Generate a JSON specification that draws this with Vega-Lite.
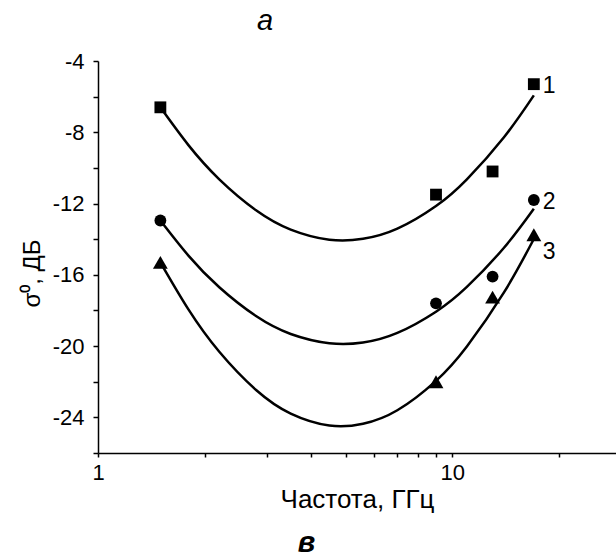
{
  "$schema": "https://vega.github.io/schema/vega-lite/v6.json",
  "width": 518,
  "height": 392,
  "autosize": {"type": "none"},
  "padding": {"left": 98, "top": 61, "right": 0, "bottom": 104},
  "background": "white",
  "config": {
    "view": {"stroke": null},
    "font": "Liberation Sans",
    "axis": {
      "grid": false,
      "domainColor": "black",
      "domainWidth": 1.5,
      "tickColor": "black",
      "tickWidth": 1.5,
      "labelColor": "black",
      "labelFontSize": 22,
      "labelFont": "Liberation Sans",
      "titleColor": "black",
      "titleFont": "Liberation Sans",
      "titleFontWeight": "normal",
      "labelFlush": false,
      "labelOverlap": false
    },
    "axisX": {
      "title": "Частота, ГГц",
      "titleFontSize": 26,
      "values": [1, 2, 3, 4, 5, 6, 7, 8, 9, 10, 20],
      "labelExpr": "datum.value == 1 || datum.value == 10 ? datum.value + '' : ''",
      "tickSize": 4,
      "labelPadding": 5,
      "titlePadding": 3
    },
    "axisY": {
      "title": "σ⁰, ДБ",
      "titleFontSize": 24,
      "titleY": 212,
      "values": [-26, -24, -22, -20, -18, -16, -14, -12, -10, -8, -6, -4],
      "labelExpr": "datum.value % 4 == 0 ? datum.value + '' : ''",
      "tickSize": 5,
      "labelPadding": 9,
      "titlePadding": 8
    }
  },
  "datasets": {
    "points": [
      {"series": "1", "freq": 1.5, "sigma": -6.6},
      {"series": "1", "freq": 9, "sigma": -11.5},
      {"series": "1", "freq": 13, "sigma": -10.2},
      {"series": "1", "freq": 17, "sigma": -5.3},
      {"series": "2", "freq": 1.5, "sigma": -12.95},
      {"series": "2", "freq": 9, "sigma": -17.6},
      {"series": "2", "freq": 13, "sigma": -16.1},
      {"series": "2", "freq": 17, "sigma": -11.8},
      {"series": "3", "freq": 1.5, "sigma": -15.3},
      {"series": "3", "freq": 9, "sigma": -22.0},
      {"series": "3", "freq": 13, "sigma": -17.25},
      {"series": "3", "freq": 17, "sigma": -13.75}
    ],
    "curves": [
      {"series": "1", "freq": 1.5, "sigma": -6.6},
      {"series": "1", "freq": 1.8, "sigma": -8.72},
      {"series": "1", "freq": 2.2, "sigma": -10.64},
      {"series": "1", "freq": 2.8, "sigma": -12.39},
      {"series": "1", "freq": 3.5, "sigma": -13.46},
      {"series": "1", "freq": 4.5, "sigma": -14.03},
      {"series": "1", "freq": 5.6, "sigma": -13.98},
      {"series": "1", "freq": 7, "sigma": -13.41},
      {"series": "1", "freq": 9, "sigma": -12.14},
      {"series": "1", "freq": 11, "sigma": -10.64},
      {"series": "1", "freq": 14, "sigma": -8.28},
      {"series": "1", "freq": 17, "sigma": -5.93},
      {"series": "2", "freq": 1.5, "sigma": -12.95},
      {"series": "2", "freq": 1.8, "sigma": -14.92},
      {"series": "2", "freq": 2.2, "sigma": -16.7},
      {"series": "2", "freq": 2.8, "sigma": -18.33},
      {"series": "2", "freq": 3.5, "sigma": -19.32},
      {"series": "2", "freq": 4.5, "sigma": -19.84},
      {"series": "2", "freq": 5.6, "sigma": -19.8},
      {"series": "2", "freq": 7, "sigma": -19.26},
      {"series": "2", "freq": 9, "sigma": -18.07},
      {"series": "2", "freq": 11, "sigma": -16.68},
      {"series": "2", "freq": 14, "sigma": -14.48},
      {"series": "2", "freq": 17, "sigma": -12.29},
      {"series": "3", "freq": 1.5, "sigma": -15.3},
      {"series": "3", "freq": 1.8, "sigma": -17.94},
      {"series": "3", "freq": 2.2, "sigma": -20.32},
      {"series": "3", "freq": 2.8, "sigma": -22.48},
      {"series": "3", "freq": 3.5, "sigma": -23.79},
      {"series": "3", "freq": 4.5, "sigma": -24.46},
      {"series": "3", "freq": 5.6, "sigma": -24.36},
      {"series": "3", "freq": 7, "sigma": -23.6},
      {"series": "3", "freq": 9, "sigma": -21.95},
      {"series": "3", "freq": 11, "sigma": -20.02},
      {"series": "3", "freq": 14, "sigma": -16.99},
      {"series": "3", "freq": 17, "sigma": -13.99}
    ]
  },
  "layer": [
    {
      "data": {"name": "curves"},
      "mark": {"type": "line", "color": "black", "strokeWidth": 2.5, "interpolate": "natural"},
      "encoding": {
        "x": {
          "field": "freq",
          "type": "quantitative",
          "title": "Частота, ГГц",
          "scale": {"type": "log", "domain": [1, 29], "nice": false}
        },
        "y": {
          "field": "sigma",
          "type": "quantitative",
          "title": "σ⁰, ДБ",
          "scale": {"domain": [-26, -4], "nice": false, "zero": false}
        },
        "detail": {"field": "series"}
      }
    },
    {
      "data": {"name": "points"},
      "transform": [{"filter": "datum.series == '1'"}],
      "mark": {"type": "point", "shape": "square", "size": 140, "filled": true, "color": "black", "opacity": 1, "strokeWidth": 0},
      "encoding": {
        "x": {"field": "freq", "type": "quantitative", "title": "Частота, ГГц"},
        "y": {"field": "sigma", "type": "quantitative", "title": "σ⁰, ДБ"}
      }
    },
    {
      "data": {"name": "points"},
      "transform": [{"filter": "datum.series == '2'"}],
      "mark": {"type": "point", "shape": "circle", "size": 140, "filled": true, "color": "black", "opacity": 1, "strokeWidth": 0},
      "encoding": {
        "x": {"field": "freq", "type": "quantitative", "title": "Частота, ГГц"},
        "y": {"field": "sigma", "type": "quantitative", "title": "σ⁰, ДБ"}
      }
    },
    {
      "data": {"name": "points"},
      "transform": [{"filter": "datum.series == '3'"}],
      "mark": {"type": "point", "shape": "triangle-up", "size": 220, "filled": true, "color": "black", "opacity": 1, "strokeWidth": 0},
      "encoding": {
        "x": {"field": "freq", "type": "quantitative", "title": "Частота, ГГц"},
        "y": {"field": "sigma", "type": "quantitative", "title": "σ⁰, ДБ"}
      }
    },
    {
      "data": {"name": "points"},
      "transform": [{"filter": "datum.freq == 17 && datum.series != '3'"}],
      "mark": {"type": "text", "align": "left", "baseline": "middle", "dx": 9, "dy": 2, "fontSize": 23, "color": "black"},
      "encoding": {
        "x": {"field": "freq", "type": "quantitative", "title": "Частота, ГГц"},
        "y": {"field": "sigma", "type": "quantitative", "title": "σ⁰, ДБ"},
        "text": {"field": "series"}
      }
    },
    {
      "data": {"name": "points"},
      "transform": [{"filter": "datum.freq == 17 && datum.series == '3'"}],
      "mark": {"type": "text", "align": "left", "baseline": "middle", "dx": 9, "dy": 17, "fontSize": 23, "color": "black"},
      "encoding": {
        "x": {"field": "freq", "type": "quantitative", "title": "Частота, ГГц"},
        "y": {"field": "sigma", "type": "quantitative", "title": "σ⁰, ДБ"},
        "text": {"field": "series"}
      }
    },
    {
      "data": {"values": [{"label": "а"}]},
      "mark": {"type": "text", "align": "center", "baseline": "alphabetic", "fontSize": 29, "fontStyle": "italic", "color": "black"},
      "encoding": {
        "x": {"datum": 2.96, "type": "quantitative", "title": "Частота, ГГц"},
        "y": {"datum": -2.26, "type": "quantitative", "title": "σ⁰, ДБ"},
        "text": {"field": "label"}
      }
    },
    {
      "data": {"values": [{"label": "в"}]},
      "mark": {"type": "text", "align": "center", "baseline": "alphabetic", "fontSize": 29, "fontStyle": "italic", "fontWeight": "bold", "color": "black"},
      "encoding": {
        "x": {"datum": 3.88, "type": "quantitative", "title": "Частота, ГГц"},
        "y": {"datum": -31.54, "type": "quantitative", "title": "σ⁰, ДБ"},
        "text": {"field": "label"}
      }
    }
  ]
}
